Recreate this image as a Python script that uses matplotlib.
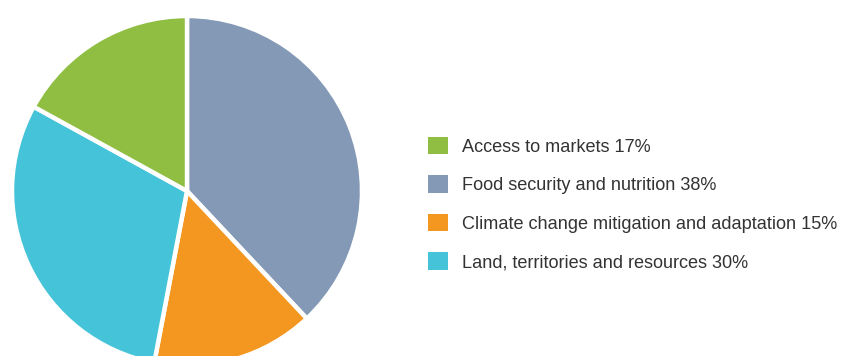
import matplotlib
matplotlib.use("Agg")
import matplotlib.pyplot as plt
from matplotlib.patches import Rectangle

plt.rcParams['font.family'] = ['Liberation Sans', 'DejaVu Sans']

# Share of funding by thematic area (legend order)
categories = ["Access to markets", "Food security and nutrition",
              "Climate change mitigation and adaptation",
              "Land, territories and resources"]
shares = [17, 38, 15, 30]
colors = ["#8fbe43", "#8399b5", "#f39721", "#45c4d9"]

# Pie is drawn clockwise starting at 12 o'clock with food security first
pie_order = [1, 2, 3, 0]

W, H, DPI = 842, 356, 100
fig = plt.figure(figsize=(W / DPI, H / DPI), dpi=DPI)
ax = fig.add_axes([0, 0, 1, 1])

cx, cy, r = 187, 191, 175  # centre and radius in pixels (y from top)

wedges, _ = ax.pie([shares[i] for i in pie_order],
                   colors=[colors[i] for i in pie_order],
                   startangle=90, counterclock=False, radius=1,
                   wedgeprops=dict(edgecolor="white", linewidth=3.2))
ax.set_aspect('auto')
ax.set_xlim(-cx / r, (W - cx) / r)
ax.set_ylim(-(H - cy) / r, cy / r)
ax.axis('off')

handles = [Rectangle((0, 0), 1, 1, facecolor=c, edgecolor="none") for c in colors]
labels = [f"{c} {s}%" for c, s in zip(categories, shares)]
fig.legend(handles, labels, loc="upper left",
           bbox_to_anchor=(428 / W, 1 - 137 / H),
           frameon=False, fontsize=13.1, labelcolor="#333333",
           handlelength=1.1, handleheight=1.1, handletextpad=0.78,
           labelspacing=1.07, borderpad=0, borderaxespad=0)

fig.savefig("out.png", dpi=DPI)
